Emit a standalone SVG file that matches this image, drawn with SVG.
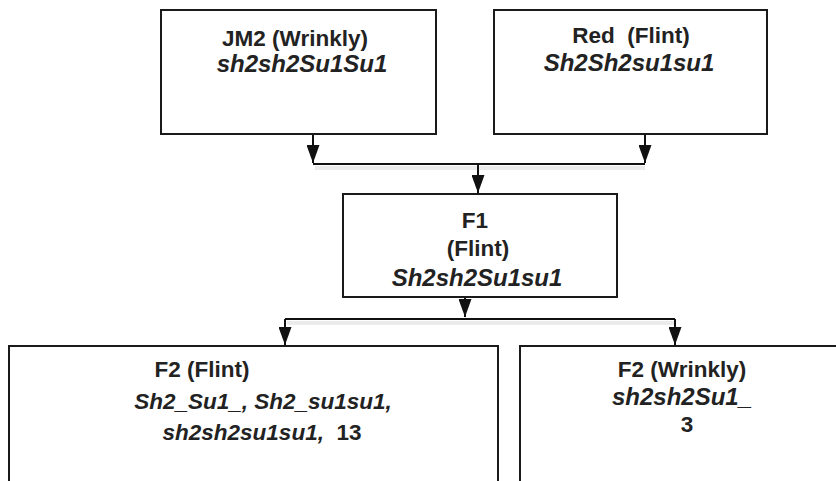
<svg xmlns="http://www.w3.org/2000/svg" width="836" height="481" viewBox="0 0 836 481">
<style>
.box{fill:#fff;stroke:#1a1a1a;stroke-width:2}
.t{font-family:"Liberation Sans",Arial,sans-serif;font-weight:bold;font-size:22.5px;fill:#222;text-anchor:middle;white-space:pre}
.i{font-style:italic}
.b{font-size:24px}
.c{fill:none;stroke:#111;stroke-width:2}
.sh{fill:none;stroke:#000;stroke-opacity:0.08;stroke-width:4}
</style>
<defs>
<marker id="ah" viewBox="0 0 13 18" refX="6.5" refY="18" markerWidth="13" markerHeight="18" markerUnits="userSpaceOnUse" orient="0">
<path d="M0,0 L13,0 L6.5,18 Z" fill="#111"/>
</marker>
</defs>
<rect width="836" height="481" fill="#fff"/>
<g id="connectors">
<path class="sh" d="M315,168 H645"/>
<path class="sh" d="M287,323 H675"/>
<path class="c" d="M313,134 V163" marker-end="url(#ah)"/>
<path class="c" d="M645,134 V163" marker-end="url(#ah)"/>
<path class="c" d="M313,164 H645"/>
<path class="c" d="M478,164 V193" marker-end="url(#ah)"/>
<path class="c" d="M465,297 V317" marker-end="url(#ah)"/>
<path class="c" d="M285,319 H675"/>
<path class="c" d="M285,319 V345" marker-end="url(#ah)"/>
<path class="c" d="M675,319 V345" marker-end="url(#ah)"/>
</g>
<g id="jm2">
<rect class="box" x="161" y="10" width="275" height="124"/>
<text class="t" x="295" y="46">JM2 (Wrinkly)</text>
<text class="t i b" x="302" y="72">sh2sh2Su1Su1</text>
</g>
<g id="red">
<rect class="box" x="494" y="10" width="273" height="124"/>
<text class="t" x="631" y="43">Red  (Flint)</text>
<text class="t i b" x="629" y="71">Sh2Sh2su1su1</text>
</g>
<g id="f1">
<rect class="box" x="343" y="194" width="274" height="103"/>
<text class="t" x="475" y="228">F1</text>
<text class="t" x="478" y="256">(Flint)</text>
<text class="t i b" x="477" y="286">Sh2sh2Su1su1</text>
</g>
<g id="f2flint">
<rect class="box" x="9" y="346" width="489" height="200"/>
<text class="t" x="202" y="377">F2 (Flint)</text>
<text class="t i" x="263" y="409">Sh2_Su1_, Sh2_su1su1,</text>
<text class="t" x="262" y="440"><tspan class="i">sh2sh2su1su1,</tspan>  13</text>
</g>
<g id="f2wrinkly">
<rect class="box" x="520" y="346" width="400" height="200"/>
<text class="t" x="682" y="377">F2 (Wrinkly)</text>
<text class="t i b" x="682" y="405">sh2sh2Su1_</text>
<text class="t" x="687" y="432">3</text>
</g>
</svg>
